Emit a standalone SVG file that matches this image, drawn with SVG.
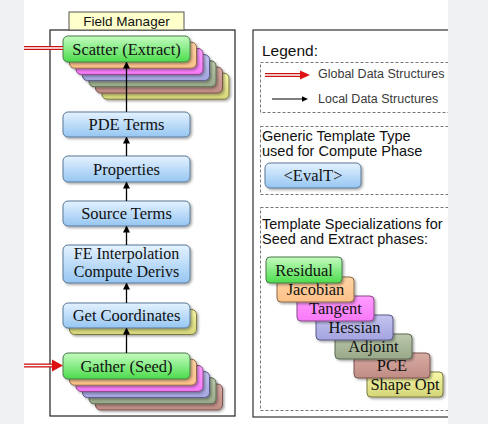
<svg xmlns="http://www.w3.org/2000/svg" width="488" height="424" viewBox="0 0 488 424">
<defs>
<linearGradient id="gBlue" x1="0" y1="0" x2="0" y2="1"><stop offset="0" stop-color="#e4f2ff"/><stop offset="1" stop-color="#96c6f2"/></linearGradient>
<linearGradient id="gGreen" x1="0" y1="0" x2="0" y2="1"><stop offset="0" stop-color="#c4fcc0"/><stop offset="1" stop-color="#4cdc4c"/></linearGradient>
<linearGradient id="gOrange" x1="0" y1="0" x2="0" y2="1"><stop offset="0" stop-color="#ffd4a4"/><stop offset="1" stop-color="#fcc088"/></linearGradient>
<linearGradient id="gMag" x1="0" y1="0" x2="0" y2="1"><stop offset="0" stop-color="#ff9cff"/><stop offset="1" stop-color="#f878f8"/></linearGradient>
<linearGradient id="gLav" x1="0" y1="0" x2="0" y2="1"><stop offset="0" stop-color="#c4c4f0"/><stop offset="1" stop-color="#a4a4e0"/></linearGradient>
<linearGradient id="gGG" x1="0" y1="0" x2="0" y2="1"><stop offset="0" stop-color="#bcc8ac"/><stop offset="1" stop-color="#98a888"/></linearGradient>
<linearGradient id="gRose" x1="0" y1="0" x2="0" y2="1"><stop offset="0" stop-color="#d8aca4"/><stop offset="1" stop-color="#c08c84"/></linearGradient>
<linearGradient id="gYel" x1="0" y1="0" x2="0" y2="1"><stop offset="0" stop-color="#f8f8a8"/><stop offset="1" stop-color="#d4d478"/></linearGradient>
<filter id="sh" x="-10%" y="-20%" width="125%" height="150%"><feDropShadow dx="1.5" dy="1.5" stdDeviation="1" flood-color="#000" flood-opacity="0.35"/></filter>
<marker id="ah" markerWidth="7" markerHeight="7" refX="6" refY="3.5" orient="auto" markerUnits="userSpaceOnUse"><path d="M0,0 L7,3.5 L0,7 Z" fill="#000"/></marker>
</defs>
<style>
.n{stroke-width:1;filter:url(#sh)}
.blue{fill:url(#gBlue);stroke:#5a7896}
.green{fill:url(#gGreen);stroke:#4a7a4a}
.orange{fill:url(#gOrange);stroke:#8a6a4a}
.mag{fill:url(#gMag);stroke:#8a4a8a}
.lav{fill:url(#gLav);stroke:#5a5a8a}
.gg{fill:url(#gGG);stroke:#5a6a52}
.rose{fill:url(#gRose);stroke:#7a5450}
.yel{fill:url(#gYel);stroke:#7a7a40}
.t{font-family:"Liberation Serif","Times New Roman",serif;font-size:16.5px;fill:#111;text-anchor:middle}
.t2{font-family:"Liberation Serif","Times New Roman",serif;font-size:16px;fill:#111;text-anchor:middle}
.s{font-family:"Liberation Sans",Arial,sans-serif;fill:#111}
.lg{font-family:"Liberation Sans",Arial,sans-serif;font-size:12.5px;fill:#3a3a3a}
.dash{fill:none;stroke:#777;stroke-width:1;stroke-dasharray:3,2}
.conn{stroke:#000;stroke-width:1.3;fill:none;marker-end:url(#ah)}
</style>
<rect x="0" y="0" width="488" height="424" fill="#eff0f2"/>
<rect x="24" y="0" width="424" height="424" fill="#ffffff"/>

<g id="field-manager">
<rect x="50" y="30" width="185" height="386" fill="none" stroke="#222" stroke-width="1.2"/>
<rect x="69" y="12" width="115" height="18" fill="#ffffcc" stroke="#555" stroke-width="1"/>
<text class="s" x="126.5" y="26" font-size="13.5" text-anchor="middle">Field Manager</text>
</g>

<g id="scatter">
<rect class="n yel" x="102" y="73.2" width="127" height="26" rx="5"/>
<rect class="n rose" x="95.5" y="67" width="127" height="26" rx="5"/>
<rect class="n gg" x="89" y="60.8" width="127" height="26" rx="5"/>
<rect class="n lav" x="82.5" y="54.6" width="127" height="26" rx="5"/>
<rect class="n mag" x="76" y="48.4" width="127" height="26" rx="5"/>
<rect class="n orange" x="69.5" y="42.2" width="127" height="26" rx="5"/>
<rect class="n green" x="63" y="36" width="127" height="26" rx="5"/>
<text class="t" x="126.5" y="54.8">Scatter (Extract)</text>
</g>

<g id="pde-terms">
<rect class="n blue" x="63" y="112" width="127" height="25" rx="5"/>
<text class="t" x="126.5" y="130">PDE Terms</text>
</g>

<g id="properties">
<rect class="n blue" x="63" y="156" width="127" height="26" rx="5"/>
<text class="t" x="126.5" y="174.5">Properties</text>
</g>

<g id="source-terms">
<rect class="n blue" x="63" y="201" width="127" height="25" rx="5"/>
<text class="t" x="126.5" y="219">Source Terms</text>
</g>

<g id="fe-interpolation">
<rect class="n blue" x="63" y="245" width="127" height="38" rx="5"/>
<text class="t2" x="126.5" y="259">FE Interpolation</text>
<text class="t2" x="126.5" y="277">Compute Derivs</text>
</g>

<g id="get-coordinates">
<rect class="n yel" x="69.5" y="309.5" width="127" height="25" rx="5"/>
<rect class="n blue" x="63" y="303" width="127" height="25" rx="5"/>
<text class="t" x="126.5" y="321">Get Coordinates</text>
</g>

<g id="gather">
<rect class="n rose" x="95.5" y="384" width="127" height="26" rx="5"/>
<rect class="n gg" x="89" y="377.8" width="127" height="26" rx="5"/>
<rect class="n lav" x="82.5" y="371.6" width="127" height="26" rx="5"/>
<rect class="n mag" x="76" y="365.4" width="127" height="26" rx="5"/>
<rect class="n orange" x="69.5" y="359.2" width="127" height="26" rx="5"/>
<rect class="n green" x="63" y="353" width="127" height="26" rx="5"/>
<text class="t" x="126.5" y="371.5">Gather (Seed)</text>
</g>

<g id="connectors">
<line class="conn" x1="126.5" y1="353" x2="126.5" y2="328.5"/>
<line class="conn" x1="126.5" y1="303" x2="126.5" y2="283.5"/>
<line class="conn" x1="126.5" y1="245" x2="126.5" y2="226.5"/>
<line class="conn" x1="126.5" y1="201" x2="126.5" y2="182.5"/>
<line class="conn" x1="126.5" y1="156" x2="126.5" y2="137.5"/>
<line class="conn" x1="126.5" y1="112" x2="126.5" y2="62.5"/>
<line x1="24" y1="48" x2="63" y2="48" stroke="#cc1111" stroke-width="4"/>
<line x1="24" y1="48" x2="63" y2="48" stroke="#ffffff" stroke-width="1.4"/>
<line x1="24" y1="365.5" x2="55" y2="365.5" stroke="#cc1111" stroke-width="4"/>
<line x1="24" y1="365.5" x2="56" y2="365.5" stroke="#ffffff" stroke-width="1.4"/>
<path d="M52,359.5 L63,365.5 L52,371.5 Z" fill="#dd1111"/>
</g>

<g id="legend">
<rect x="253" y="30" width="260" height="387" fill="none" stroke="#333" stroke-width="1.2"/>
<text class="s" x="262" y="56" font-size="15.5">Legend:</text>
<rect class="dash" x="260.5" y="62.5" width="240" height="50"/>
<line x1="265" y1="75" x2="302" y2="75" stroke="#cc1111" stroke-width="4"/>
<line x1="265" y1="75" x2="303" y2="75" stroke="#ffffff" stroke-width="1.4"/>
<path d="M300,70.5 L310,75 L300,79.5 Z" fill="#dd1111"/>
<text class="lg" x="318" y="78">Global Data Structures</text>
<line x1="272" y1="99" x2="306" y2="99" stroke="#000" stroke-width="1.1"/>
<path d="M302,96.3 L308,99 L302,101.7 Z" fill="#000"/>
<text class="lg" x="318" y="103">Local Data Structures</text>
</g>

<g id="generic-template">
<rect class="dash" x="260.5" y="126.5" width="240" height="68"/>
<text class="s" x="262" y="141" font-size="14.5">Generic Template Type</text>
<text class="s" x="262" y="156" font-size="14.5">used for Compute Phase</text>
<rect class="n blue" x="265" y="163" width="96" height="25" rx="5"/>
<text class="t" x="313" y="181">&lt;EvalT&gt;</text>
</g>

<g id="specializations">
<rect class="dash" x="260.5" y="207.5" width="240" height="203"/>
<text class="s" x="262" y="229" font-size="14.5">Template Specializations for</text>
<text class="s" x="262" y="244" font-size="14.5">Seed and Extract phases:</text>
</g>
<g id="shape-opt"><rect class="n yel" x="367" y="372" width="76" height="25" rx="4"/><text class="t" x="405" y="390">Shape Opt</text></g>
<g id="pce"><rect class="n rose" x="354" y="353" width="76" height="25" rx="4"/><text class="t" x="392" y="371">PCE</text></g>
<g id="adjoint"><rect class="n gg" x="335" y="334" width="77" height="25" rx="4"/><text class="t" x="373.5" y="352">Adjoint</text></g>
<g id="hessian"><rect class="n lav" x="316" y="315" width="77" height="25" rx="4"/><text class="t" x="354.5" y="333">Hessian</text></g>
<g id="tangent"><rect class="n mag" x="297" y="296" width="77" height="25" rx="4"/><text class="t" x="335.5" y="314">Tangent</text></g>
<g id="jacobian"><rect class="n orange" x="277" y="277" width="77" height="25" rx="4"/><text class="t" x="315.5" y="295">Jacobian</text></g>
<g id="residual"><rect class="n green" x="266" y="257" width="76" height="26" rx="4"/><text class="t" x="304" y="275.5">Residual</text></g>

<rect x="448" y="0" width="40" height="424" fill="#eff0f2"/>
</svg>
